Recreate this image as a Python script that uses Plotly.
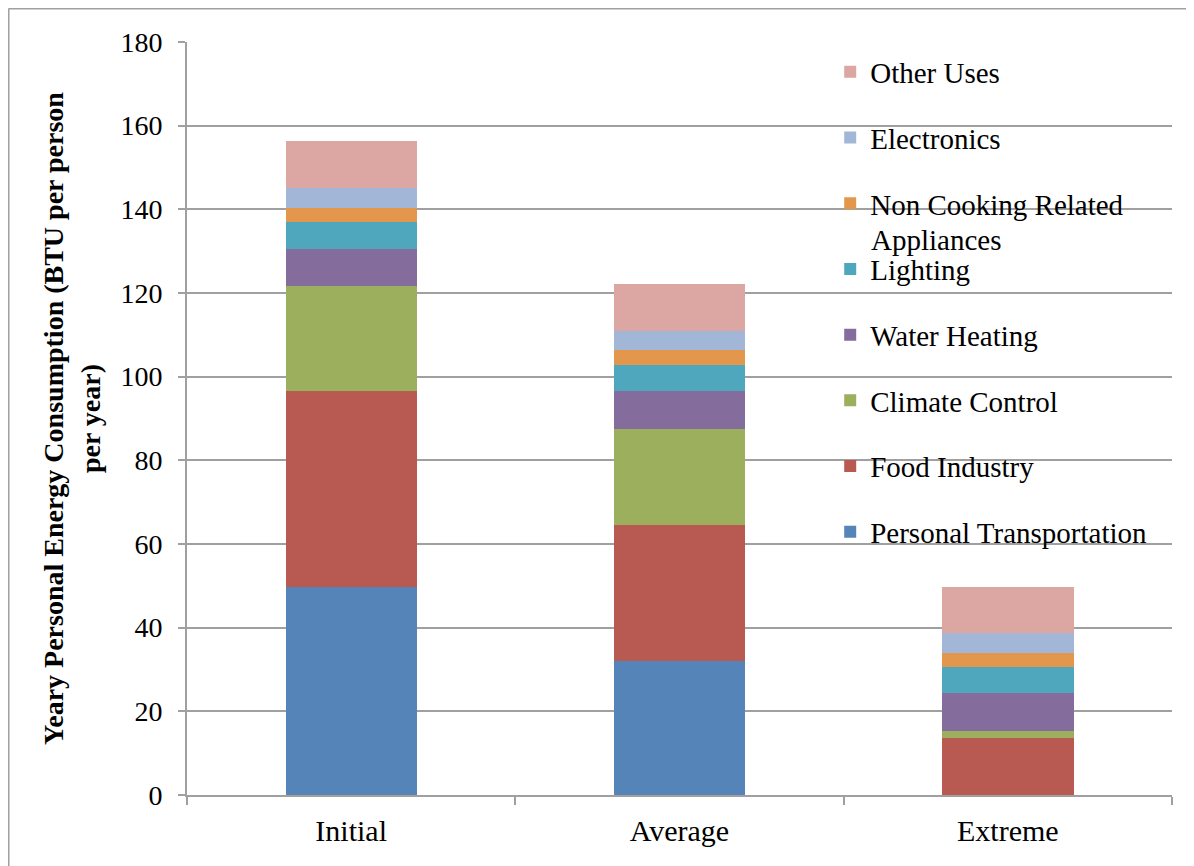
import plotly.graph_objects as go

categories = ["Initial", "Average", "Extreme"]
series_names = ["Personal Transportation", "Food Industry", "Climate Control", "Water Heating",
                "Lighting", "Non Cooking Related", "Electronics", "Other Uses"]
non_cooking_second_line = "Appliances"
personal_transportation = [49.7, 32.0, 0.0]
food_industry = [46.8, 32.5, 13.7]
climate_control = [25.1, 22.9, 1.5]
water_heating = [8.9, 9.2, 9.1]
lighting = [6.5, 6.2, 6.2]
non_cooking = [3.3, 3.6, 3.5]
electronics = [4.8, 4.5, 4.7]
other_uses = [11.2, 11.3, 11.1]
y_ticks = [0, 20, 40, 60, 80, 100, 120, 140, 160, 180]

series_values = [personal_transportation, food_industry, climate_control, water_heating,
                 lighting, non_cooking, electronics, other_uses]
colors = ["#5484b8", "#b95a52", "#9baf5d", "#846c9c", "#4fa7bd", "#e2974d", "#a2b6d8", "#dca6a2"]

FONT = "Liberation Serif"

fig = go.Figure()
for i, (name, vals) in enumerate(zip(series_names, series_values)):
    fig.add_trace(go.Bar(
        x=categories, y=vals, name=name, marker_color=colors[i],
        marker_line_width=0, legendgroup=f"g{i}", legendrank=1000 - i, width=0.4,
    ))

fig.update_layout(
    barmode="stack",
    width=1186, height=858,
    margin=dict(l=179, r=22, t=34, b=71),
    paper_bgcolor="white", plot_bgcolor="white",
    font=dict(family=FONT, color="black"),
    showlegend=True,
    legend=dict(
        x=0.653, y=0.994, xanchor="left", yanchor="top",
        traceorder="grouped", tracegroupgap=25, maxheight=820,
        font=dict(family=FONT, size=29, color="black"),
        bgcolor="rgba(0,0,0,0)", itemwidth=30,
    ),
    xaxis=dict(
        type="category", showgrid=False, showline=True, linecolor="#a0a0a0", linewidth=2,
        ticks="outside", tickson="boundaries", ticklen=8, tickcolor="#a0a0a0", tickwidth=2,
        tickfont=dict(family=FONT, size=30), range=[-0.5, 2.5], ticklabelstandoff=8,
    ),
    yaxis=dict(
        range=[0, 180], tickvals=y_ticks, showgrid=True, gridcolor="#a0a0a0", gridwidth=2,
        showline=True, linecolor="#a0a0a0", linewidth=2, ticks="outside", ticklen=7,
        tickcolor="#a0a0a0", tickwidth=2, tickfont=dict(family=FONT, size=28),
        zeroline=False, ticklabelstandoff=10,
        title=dict(text="<b>Yeary Personal Energy Consumption (BTU per person<br>per year)</b>",
                   font=dict(family=FONT, size=28), standoff=12),
    ),
    annotations=[
        dict(text=non_cooking_second_line, xref="paper", yref="paper", x=0.692, y=0.737,
             xanchor="left", yanchor="middle", showarrow=False,
             font=dict(family=FONT, size=29, color="black")),
    ],
    shapes=[
        dict(type="line", xref="paper", yref="paper", x0=-0.1812, x1=-0.1812, y0=1.0445, y1=-0.2,
             line=dict(color="#a0a0a0", width=2)),
        dict(type="line", xref="paper", yref="paper", x0=-0.1812, x1=1.1, y0=1.0445, y1=1.0445,
             line=dict(color="#a0a0a0", width=2)),
    ],
)

fig.write_html("out.html")
